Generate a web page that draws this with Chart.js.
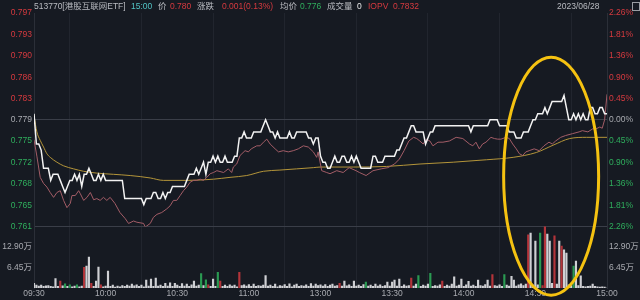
<!DOCTYPE html>
<html><head><meta charset="utf-8">
<script src="https://cdn.jsdelivr.net/npm/chart.js@4/dist/chart.umd.min.js"></script>
<style>
html,body{margin:0;padding:0;background:#161a22;}
#wrap{position:relative;width:640px;height:300px;overflow:hidden;background:#161a22;}
canvas{position:absolute;left:0;top:0;}
.hd{position:absolute;top:1px;font-size:8.5px;font-family:"Liberation Sans","Noto Sans CJK SC",sans-serif;white-space:nowrap;line-height:10px;color:#b9bbc1;}
</style></head>
<body><div id="wrap"><canvas id="c" width="640" height="300"></canvas>
<div class="hd" style="left:34px">513770[港股互联网ETF]</div>
<div class="hd" style="left:131px;color:#52c3c4">15:00</div>
<div class="hd" style="left:158px">价</div>
<div class="hd" style="left:170px;color:#d63a3f">0.780</div>
<div class="hd" style="left:197px">涨跌</div>
<div class="hd" style="left:222px;color:#d63a3f">0.001(0.13%)</div>
<div class="hd" style="left:280px">均价</div>
<div class="hd" style="left:300px;color:#2fae5d">0.776</div>
<div class="hd" style="left:327px">成交量</div>
<div class="hd" style="left:357px;color:#e8e8e8">0</div>
<div class="hd" style="left:368px;color:#d63a3f">IOPV</div>
<div class="hd" style="left:393px;color:#d63a3f">0.7832</div>
<div class="hd" style="left:557px">2023/06/28</div>
<div style="position:absolute;left:632px;top:2px;width:6px;height:7px;border:1px solid #9a9ca2;"></div>
</div>
<script>
// ---- data ----
const prevClose = 0.779;
const timeTickMinutes = [0,30,60,90,120,150,180,210,240];
const timeLabels = ['09:30','10:00','10:30','11:00','13:00','13:30','14:00','14:30','15:00'];
const pctTicks = [-2.26,-1.81,-1.36,-0.90,-0.45,0,0.45,0.90,1.36,1.81,2.26];
const priceTickLabels = ['0.761','0.765','0.768','0.772','0.775','0.779','0.783','0.786','0.790','0.793','0.797'];
const pctTickLabels = ['2.26%','1.81%','1.36%','0.90%','0.45%','0.00%','0.45%','0.90%','1.36%','1.81%','2.26%'];
const volTicks = [6.45, 12.90];
const volTickLabels = ['6.45万','12.90万'];
const volMax = 19.35;

// ETF price, one value per minute (09:30 .. 15:00, 241 minutes)
const price = [
0.780,0.775,0.775,0.774,0.771,0.771,0.771,0.769,0.770,0.770,
0.770,0.769,0.768,0.767,0.768,0.769,0.769,0.770,0.769,0.770,
0.768,0.770,0.770,0.771,0.770,0.769,0.769,0.770,0.769,0.770,
0.769,0.769,0.769,0.769,0.769,0.769,0.769,0.769,0.766,0.766,
0.766,0.766,0.766,0.766,0.766,0.766,0.765,0.766,0.766,0.766,
0.767,0.767,0.766,0.766,0.767,0.766,0.767,0.767,0.768,0.768,
0.768,0.768,0.768,0.768,0.769,0.770,0.770,0.770,0.771,0.770,
0.771,0.772,0.770,0.772,0.772,0.773,0.772,0.773,0.772,0.772,
0.773,0.772,0.772,0.772,0.773,0.773,0.776,0.776,0.777,0.776,
0.776,0.776,0.777,0.777,0.777,0.777,0.778,0.779,0.778,0.777,
0.777,0.776,0.777,0.776,0.776,0.776,0.776,0.777,0.776,0.776,
0.777,0.777,0.777,0.777,0.777,0.776,0.776,0.775,0.776,0.776,
0.773,0.772,0.772,0.771,0.771,0.772,0.773,0.772,0.772,0.773,
0.773,0.772,0.772,0.773,0.772,0.773,0.772,0.771,0.771,0.771,
0.771,0.771,0.773,0.773,0.772,0.772,0.772,0.773,0.773,0.773,
0.773,0.773,0.774,0.774,0.775,0.776,0.776,0.777,0.778,0.778,
0.777,0.777,0.777,0.777,0.775,0.776,0.777,0.777,0.778,0.778,
0.778,0.778,0.778,0.778,0.778,0.778,0.778,0.778,0.778,0.778,
0.778,0.778,0.778,0.777,0.778,0.778,0.778,0.778,0.778,0.778,
0.778,0.779,0.779,0.779,0.779,0.778,0.778,0.778,0.778,0.777,
0.777,0.777,0.776,0.776,0.776,0.777,0.777,0.777,0.778,0.779,
0.779,0.780,0.780,0.780,0.781,0.780,0.781,0.782,0.782,0.782,
0.782,0.782,0.783,0.781,0.779,0.779,0.780,0.779,0.780,0.779,
0.780,0.779,0.779,0.781,0.781,0.780,0.780,0.781,0.781,0.780,
0.780];

// IOPV, read at these minutes
const iopvMinutes = [
0,1.2,2.6,4,5.4,6.8,8.2,9.6,11,12.4,
13.8,15.2,15.9,17.3,18.7,19.4,20.8,22.2,23.6,25,
26.3,27.7,29.1,30.5,31.9,33.9,36,38.2,39.6,41.7,
43.1,45.9,46.6,48.7,50,51.5,53.5,55.6,57,58.4,
59.8,61.2,62.6,64,65.4,66.8,68.2,69.6,71,72.4,
73.8,75.2,76.6,79.4,81.4,82.8,83.5,84.9,86.3,88.4,
89.8,91,93.3,94.7,96.1,97.5,98.9,101,102.4,104.4,
106.5,108.6,110.7,112.8,114.9,117,118.4,119,120.5,122.6,
124,126.8,129.5,132,134.9,136.3,139.1,142,145.4,148.2,
151,153,155,157,159,160.3,161.6,163,164.4,165.8,
167.1,169.2,171.3,174,176.8,179.6,182.4,183.8,185.1,186.5,
187.9,189.3,191.4,192.8,194.2,195.6,197.7,199.1,200.5,202,
203.3,204.7,206,207.4,209.5,211.6,213.6,215.7,217.1,218.5,
220.6,222.7,225.5,228.3,229.7,232,234,235.4,237,238,
239,240];
const iopvValues = [
0.7757,0.7730,0.7695,0.7685,0.7679,0.7670,0.7662,0.7670,0.7673,0.7657,
0.7645,0.7652,0.7665,0.7665,0.7673,0.7668,0.7657,0.7662,0.7670,0.7658,
0.7660,0.7657,0.7662,0.7657,0.7662,0.7652,0.7637,0.7627,0.7619,0.7623,
0.7621,0.7619,0.7613,0.7619,0.7629,0.7634,0.7637,0.7643,0.7648,0.7657,
0.7657,0.7665,0.7673,0.7679,0.7687,0.7690,0.7690,0.7692,0.7690,0.7695,
0.7701,0.7703,0.7706,0.7703,0.7709,0.7703,0.7712,0.7717,0.7731,0.7739,
0.7737,0.7742,0.7747,0.7747,0.7753,0.7758,0.7750,0.7742,0.7737,0.7739,
0.7737,0.7739,0.7742,0.7747,0.7745,0.7737,0.7728,0.7737,0.7706,0.7703,
0.7701,0.7706,0.7703,0.7711,0.7706,0.7703,0.7698,0.7706,0.7709,0.7711,
0.7717,0.7725,0.7739,0.7755,0.7761,0.7759,0.7755,0.7750,0.7758,0.7755,
0.7747,0.7753,0.7753,0.7755,0.7761,0.7759,0.7750,0.7747,0.7753,0.7742,
0.7750,0.7753,0.7761,0.7759,0.7758,0.7758,0.7761,0.7759,0.7750,0.7742,
0.7734,0.7731,0.7737,0.7739,0.7742,0.7739,0.7747,0.7753,0.7750,0.7755,
0.7761,0.7764,0.7767,0.7770,0.7772,0.7770,0.7775,0.7775,0.7778,0.7776,
0.7790,0.7832];

// average price, read at these minutes
const avgMinutes = [0,1.2,2.6,4,5.4,6.8,9.6,12.4,16.6,20.8,26.3,33.3,40.3,48.7,54.2,64,75.2,82.1,89.1,96.1,103,110,117,120,133.7,147.7,161.7,175.6,189.5,200.7,210.4,217.4,224.4,231.4,240];
const avgValues = [0.7797,0.7770,0.7756,0.7745,0.7734,0.7728,0.7720,0.7714,0.7709,0.7705,0.7702,0.7700,0.7698,0.7694,0.7690,0.7690,0.7692,0.7695,0.7698,0.7705,0.7707,0.7709,0.7711,0.7712,0.7712,0.7713,0.7717,0.7720,0.7724,0.7728,0.7736,0.7748,0.7759,0.7761,0.7761];

// volume per minute, in 万
const volume = [
1.5,0.9,0.6,0.9,0.5,0.7,0.8,0.5,0.4,3.0,0.5,
2.2,0.7,1.3,0.5,1.0,0.4,0.6,1.0,0.4,0.6,
6.5,6.9,9.7,1.5,0.5,2.2,6.6,1.0,0.4,0.6,
5.3,0.5,0.9,0.3,0.6,0.4,0.8,0.5,0.9,0.6,
1.2,0.7,1.0,0.5,0.9,0.4,2.5,0.6,2.8,0.5,
3.1,0.6,0.9,0.5,1.5,0.6,1.6,0.5,1.5,0.9,
0.5,1.4,0.6,1.2,0.5,1.0,2.2,0.6,0.9,4.5,
0.8,2.6,1.0,0.5,2.8,0.5,4.9,2.2,0.5,0.9,
0.5,1.0,0.6,0.9,0.4,4.9,0.8,1.0,0.6,1.1,
0.5,1.2,0.5,0.8,0.6,0.9,3.9,0.6,0.9,0.5,
1.2,0.4,0.8,0.6,1.1,0.5,1.3,0.4,0.9,1.2,
0.5,0.8,0.6,1.0,0.5,1.4,0.6,1.2,0.8,1.0,
0.6,1.1,0.5,0.9,1.2,0.6,0.8,1.5,0.6,2.2,
0.7,1.0,0.5,2.2,0.6,0.9,0.5,1.1,1.9,0.6,
0.9,0.5,1.2,0.6,1.0,0.5,0.8,1.9,0.6,1.9,
2.5,0.6,2.8,0.5,1.0,0.6,0.8,3.1,0.6,1.2,
3.9,0.5,0.9,0.6,1.2,4.6,0.5,0.8,0.6,1.0,
2.2,0.5,0.9,0.6,1.2,3.5,0.6,0.9,2.8,0.5,
1.0,2.1,0.6,0.9,0.5,2.5,0.8,0.6,1.1,2.5,
0.6,4.2,0.8,0.6,1.0,0.5,4.2,0.9,0.6,3.7,
2.5,0.6,1.0,1.3,0.8,1.2,16.7,17.3,0.9,14.8,
1.0,17.3,0.8,19.5,17.0,14.8,1.5,16.4,1.2,14.8,
13.2,12.0,11.0,1.0,0.8,6.9,8.5,0.8,3.8,0.5,
0.4,0.5,0.6,1.2,0.5,0.4,0.3,0.4,0.3,0];
const upMinutes = [11,21,24,28,73,78,86,128,158,171,192,207,213,214,218,221];
const downMinutes = [13,15,18,70,72,77,139,161,166,197,212,226];

// ---- style ----
const FONT = '"Liberation Sans","Noto Sans CJK SC",sans-serif';
const RED = '#d63a3f', GREEN = '#2fae5d', GREY = '#a9abb1';
Chart.defaults.font.family = FONT;
Chart.defaults.font.size = 8.5;

const priceMin = prevClose * (1 + pctTicks[0] / 100);
const priceMax = prevClose * (1 + pctTicks[pctTicks.length - 1] / 100);
const tickColor = ctx => ctx.index < 5 ? GREEN : (ctx.index === 5 ? GREY : RED);

const ellipsePlugin = {
  id: 'ellipse',
  afterDraw(chart) {
    const {ctx, scales} = chart;
    const cx = scales.x.getPixelForValue(216.6);
    const cy = scales.yPrice.getPixelForValue(0.7697);
    ctx.save();
    ctx.strokeStyle = '#f5c211';
    ctx.lineWidth = 3;
    ctx.beginPath();
    ctx.ellipse(cx, cy, 47.5, 119, 0, 0, Math.PI * 2);
    ctx.stroke();
    ctx.restore();
  }
};

new Chart(document.getElementById('c'), {
  type: 'line',
  data: {
    datasets: [
      {
        label: '价', data: price.map((p, i) => ({x: i, y: p})), yAxisID: 'yPrice',
        borderColor: '#f2f2f2', borderWidth: 1.5, pointRadius: 0, tension: 0, order: 0
      },
      {
        label: 'IOPV', data: iopvMinutes.map((m, i) => ({x: m, y: iopvValues[i]})), yAxisID: 'yPrice',
        borderColor: '#a35d67', borderWidth: 1, pointRadius: 0, tension: 0, order: 1
      },
      {
        label: '均价', data: avgMinutes.map((m, i) => ({x: m, y: avgValues[i]})), yAxisID: 'yPrice',
        borderColor: '#b4953a', borderWidth: 1, pointRadius: 0, cubicInterpolationMode: 'monotone', order: 2
      },
      {
        type: 'bar', label: '成交量', data: volume.map((v, i) => ({x: i, y: v})), yAxisID: 'yVol',
        backgroundColor: volume.map((v, i) => upMinutes.includes(i) ? '#b3343a' : (downMinutes.includes(i) ? '#2a9a52' : '#cfd0d4')),
        barThickness: 1.5, borderWidth: 0, order: 3
      }
    ]
  },
  options: {
    responsive: false, animation: false, events: [],
    layout: {padding: {top: 13, left: 0, right: 0, bottom: 0}},
    plugins: {legend: {display: false}, tooltip: {enabled: false}},
    scales: {
      x: {
        type: 'linear', min: 0, max: 240, offset: false, position: 'bottom',
        afterBuildTicks: s => { s.ticks = timeTickMinutes.map(v => ({value: v})); },
        afterFit: s => { s.height = 12; },
        ticks: {autoSkip: false, maxRotation: 0, padding: 1, color: GREY, callback: (v, i) => timeLabels[i]},
        grid: {color: '#21252e', drawTicks: false},
        border: {display: false}
      },
      yVol: {
        type: 'linear', position: 'left', stack: 'L', stackWeight: 61.5,
        min: 0, max: volMax,
        afterBuildTicks: s => { s.ticks = volTicks.map(v => ({value: v})); },
        afterFit: s => { s.width = 34; },
        ticks: {autoSkip: false, padding: 2, color: GREY, callback: (v, i) => volTickLabels[i]},
        grid: {display: false, drawTicks: false},
        border: {color: '#2b2f38'}
      },
      yPrice: {
        type: 'linear', position: 'left', stack: 'L', stackWeight: 213.5,
        min: priceMin, max: priceMax,
        afterBuildTicks: s => { s.ticks = pctTicks.map(p => ({value: prevClose * (1 + p / 100)})); },
        afterFit: s => { s.width = 34; },
        ticks: {autoSkip: false, padding: 2, color: tickColor, callback: (v, i) => priceTickLabels[i]},
        grid: {drawTicks: false, color: ctx => (ctx.index === 0 || ctx.index === 5) ? '#3a3e48' : 'rgba(0,0,0,0)'},
        border: {color: '#2b2f38'}
      },
      yPct: {
        type: 'linear', position: 'right', stack: 'R', stackWeight: 213.5,
        min: pctTicks[0], max: pctTicks[pctTicks.length - 1],
        afterBuildTicks: s => { s.ticks = pctTicks.map(p => ({value: p})); },
        afterFit: s => { s.width = 33; },
        ticks: {autoSkip: false, padding: 2, color: tickColor, callback: (v, i) => pctTickLabels[i]},
        grid: {display: false, drawTicks: false},
        border: {color: '#2b2f38'}
      },
      yVolR: {
        type: 'linear', position: 'right', stack: 'R', stackWeight: 61.5,
        min: 0, max: volMax,
        afterBuildTicks: s => { s.ticks = volTicks.map(v => ({value: v})); },
        afterFit: s => { s.width = 33; },
        ticks: {autoSkip: false, padding: 2, color: GREY, callback: (v, i) => volTickLabels[i]},
        grid: {display: false, drawTicks: false},
        border: {color: '#2b2f38'}
      }
    }
  },
  plugins: [ellipsePlugin]
});
</script>
</body></html>
